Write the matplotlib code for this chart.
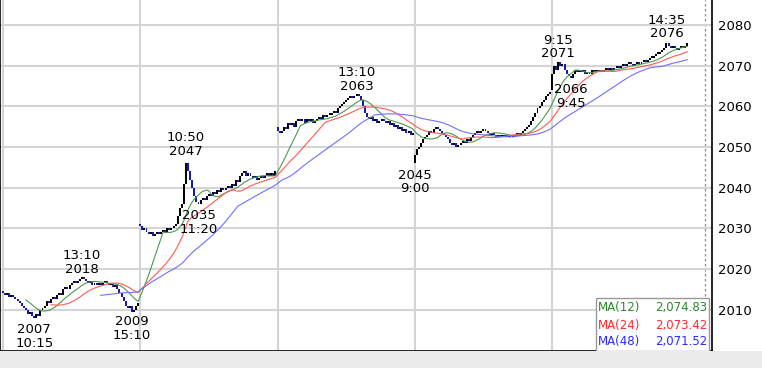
import numpy as np
import pandas as pd
import matplotlib.pyplot as plt
from matplotlib.patches import Rectangle

# 5-minute closes, 66 bars per day (9:00-11:25, 12:30-15:25)
days = ["14", "15", "16", "17", "18"]
day_opens = [2014.5, 2031, 2055, 2046, 2064]

d14 = [2014, 2013.5, 2014, 2013, 2013.5, 2013, 2012.5, 2012, 2011.5, 2011,
       2010.5, 2010, 2009, 2009.5, 2008.5, 2008, 2009, 2008.5, 2010, 2010.5,
       2011, 2012, 2011.5, 2012.5, 2013, 2012.5, 2013.5, 2014, 2013.5, 2015,
       2015.5, 2015, 2016, 2016.5, 2017, 2016.5, 2017, 2017.5, 2018, 2017.5,
       2017, 2016.5, 2017, 2016, 2016.5, 2016, 2016.5, 2016, 2016.5, 2017,
       2016.5, 2016, 2016.5, 2015.5, 2016, 2015, 2014, 2013, 2012, 2011,
       2010.5, 2011, 2009.5, 2010, 2011, 2011.5]
d15 = [2030.5, 2029.5, 2030, 2029, 2028.5, 2029, 2028, 2028.5, 2029, 2028.5,
       2029, 2029.5, 2029, 2030, 2029.5, 2030, 2030.5, 2031, 2033, 2035,
       2036, 2041, 2046, 2044, 2042, 2040, 2038, 2036.5, 2036, 2037,
       2037.5, 2037, 2038, 2038.5, 2038, 2039, 2038.5, 2039.5, 2039, 2040,
       2039.5, 2040, 2040.5, 2040, 2041, 2040.5, 2042, 2041.5, 2043, 2043.5,
       2044, 2043, 2043.5, 2043, 2042.5, 2043, 2042, 2042.5, 2043, 2042.5,
       2043, 2043.5, 2043, 2043.5, 2043, 2044]
d16 = [2054, 2053.5, 2054, 2055, 2054.5, 2056, 2055.5, 2056, 2055, 2056.5,
       2057, 2056.5, 2057, 2056, 2057, 2056.5, 2057, 2056, 2056.5, 2057,
       2057.5, 2057, 2058, 2057.5, 2058, 2058, 2058.5, 2059, 2058.5, 2059.5,
       2060, 2060.5, 2061, 2061.5, 2062, 2062.5, 2062, 2062.5, 2063, 2062.5,
       2061.5, 2060, 2058.5, 2057.5, 2057, 2057.5, 2056.5, 2057, 2056, 2056.5,
       2057, 2056.5, 2056, 2056.5, 2055.5, 2056, 2055, 2055.5, 2054.5, 2055,
       2054, 2054.5, 2053.5, 2054, 2053, 2053.5]
d17 = [2048, 2049.5, 2050, 2051, 2052, 2052.5, 2053, 2054, 2053.5, 2054.5,
       2055, 2054.5, 2054, 2053.5, 2053, 2052.5, 2052, 2051, 2050.5, 2051,
       2050, 2050.5, 2051, 2051.5, 2051, 2052, 2051.5, 2052.5, 2053, 2053.5,
       2054, 2053.5, 2054, 2054.5, 2054, 2053.5, 2053, 2053.5, 2053, 2052.5,
       2053, 2052.5, 2053, 2052.5, 2053, 2052.5, 2053, 2052.5, 2053, 2053.5,
       2053, 2053.5, 2054, 2054.5, 2055, 2055.5, 2056.5, 2057.5, 2058.5, 2059.5,
       2060, 2061, 2061.5, 2062.5, 2063, 2063.5]
d18 = [2068, 2070, 2069, 2071, 2070, 2070.5, 2069, 2068, 2067.5, 2067,
       2068, 2069, 2068.5, 2069, 2068.5, 2069, 2068, 2068.5, 2068, 2069,
       2068.5, 2069, 2068.5, 2069, 2068.5, 2069, 2069.5, 2069, 2069.5, 2069,
       2069.5, 2070, 2069.5, 2070, 2070.5, 2070, 2070.5, 2071, 2070.5, 2070,
       2070.5, 2071, 2070.5, 2071, 2071.5, 2071, 2071.5, 2072, 2072, 2072.5,
       2073, 2073, 2073.5, 2074, 2074.5, 2075.5, 2075, 2074.5, 2075, 2074.5,
       2074, 2074.5, 2075, 2074.5, 2075, 2075.5]

# high / low labels: (day, bar in day, price, time, above?)
marks = [(0, 15, 2007, "10:15", False), (0, 38, 2018, "13:10", True),
         (0, 62, 2009, "15:10", False), (1, 22, 2047, "10:50", True),
         (1, 28, 2035, "11:20", False), (2, 38, 2063, "13:10", True),
         (3, 0, 2045, "9:00", False), (4, 3, 2071, "9:15", True),
         (4, 9, 2066, "9:45", False), (4, 55, 2076, "14:35", True)]

ma_names = ["MA(12)", "MA(24)", "MA(48)"]
ma_last = [2074.83, 2073.42, 2071.52]

per_day = 66
all_days = [d14, d15, d16, d17, d18]
closes = np.array([c for d in all_days for c in d], dtype=float)
opens = np.empty_like(closes)
opens[1:] = closes[:-1]
for k, o in enumerate(day_opens):
    opens[k * per_day] = o
x = np.arange(len(closes))

fig = plt.figure(figsize=(7.62, 3.68), dpi=100)
fig.patches.append(Rectangle((0, 0), 1, 17 / 368, transform=fig.transFigure,
                             facecolor="#ececec", edgecolor="none", zorder=0))
ax = fig.add_axes([0, 17 / 368, 712 / 762, 351 / 368])
ax.set_xlim(-1.44, 340.9)
ax.set_ylim(1999.8, 2086.2)

day_starts = [k * per_day for k in range(len(days))]
ax.set_xticks(day_starts)
ax.set_yticks(range(2010, 2081, 10))
ax.grid(True, color="#d4d4d4", lw=1.5, zorder=0)
ax.tick_params(length=0, labelbottom=False, labelleft=False,
               labelright=True, labelsize=9.5, pad=4)
ax.spines["top"].set_visible(False)
for s in ["left", "bottom", "right"]:
    ax.spines[s].set_linewidth(1.2)

for k, d in enumerate(days):
    ax.text(day_starts[k] + 0.6, -0.026, d, transform=ax.get_xaxis_transform(),
            ha="left", va="center", fontsize=9.5)

ax.axvline(337.6, color="#8a8a8a", lw=0.9, ls=(0, (2, 2)), zorder=1)

# candles
up = closes >= opens
body_lo = np.minimum(opens, closes)
body_h = np.maximum(np.abs(closes - opens), 0.45)
ax.bar(x, body_h, bottom=body_lo, width=0.95,
       color=np.where(up, "#000000", "#1a1aa8"), lw=0, zorder=3)

# moving averages
s = pd.Series(closes)
for n, col in zip([12, 24, 48], ["#4c9a4c", "#ff5a5a", "#7070ff"]):
    ax.plot(x, s.rolling(n).mean(), color=col, lw=0.8, zorder=4)

for day, i, price, t, above in marks:
    xi = day * per_day + i
    if above:
        ax.annotate(f"{t}\n{price}", (xi, price), xytext=(0, 1),
                    textcoords="offset points", ha="center", va="bottom",
                    fontsize=9.5, linespacing=1.05, zorder=6)
    else:
        ax.annotate(f"{price}\n{t}", (xi, price), xytext=(0, -1),
                    textcoords="offset points", ha="center", va="top",
                    fontsize=9.5, linespacing=1.05, zorder=6)

# legend box
ax.add_patch(Rectangle((596 / 712, 0), 113 / 712, 53 / 351, transform=ax.transAxes,
                       facecolor="white", edgecolor="#999999", lw=1, zorder=7))
leg_cols = ["#2a8a2a", "#ff2a2a", "#2a2aff"]
for r, (name, val, col) in enumerate(zip(ma_names, ma_last, leg_cols)):
    yy = (351 - 308 - 17 * r) / 351
    ax.text(598 / 712, yy, name, transform=ax.transAxes, color=col,
            fontsize=8.5, ha="left", va="center", zorder=8)
    ax.text(707 / 712, yy, f"{val:,.2f}", transform=ax.transAxes, color=col,
            fontsize=8.5, ha="right", va="center", zorder=8)

fig.savefig("out.png", dpi=100)
